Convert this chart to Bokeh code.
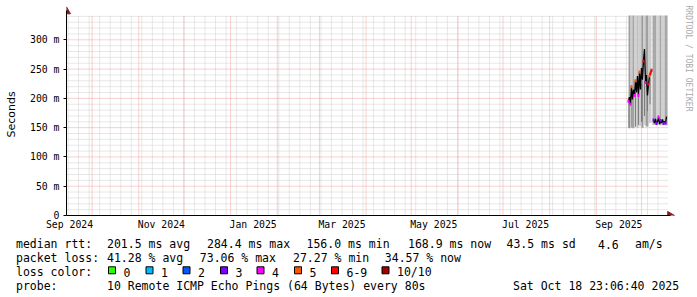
import math
import numpy as np
import pandas as pd
from bokeh.plotting import figure
from bokeh.models import Range1d, FixedTicker, DatetimeTickFormatter
from bokeh.layouts import column, row
from bokeh.core.properties import value
from bokeh.embed import file_html
from bokeh.resources import INLINE

# ---------------- data ----------------
graph_end = "2025-10-18 23:06:40"
graph_days = 400
y_upper = 341.5  # ms, upper limit of the graph area

x_label_dates = ["2024-09-16", "2024-11-16", "2025-01-16", "2025-03-16",
                 "2025-05-16", "2025-07-16", "2025-09-16"]
x_labels = ["Sep 2024", "Nov 2024", "Jan 2025", "Mar 2025", "May 2025", "Jul 2025", "Sep 2025"]
y_tick_values = [0, 50, 100, 150, 200, 250, 300]
y_tick_labels = ["0", "50 m", "100 m", "150 m", "200 m", "250 m", "300 m"]

# smoke (spread of the pings), clipped at the graph's upper limit
smoke_start = ["2025-09-22 10:00", "2025-09-23 18:00", "2025-09-25 00:00", "2025-09-26 08:00",
               "2025-09-28 08:00", "2025-09-29 00:00", "2025-10-01 00:00", "2025-10-02 08:00",
               "2025-10-03 16:00", "2025-10-05 16:00", "2025-10-08 08:00", "2025-10-11 00:00",
               "2025-10-13 00:00", "2025-10-14 08:00", "2025-10-16 08:00"]
smoke_end = ["2025-09-23 18:00", "2025-09-25 00:00", "2025-09-26 08:00", "2025-09-28 08:00",
             "2025-09-29 00:00", "2025-10-01 00:00", "2025-10-02 08:00", "2025-10-03 16:00",
             "2025-10-05 16:00", "2025-10-07 16:00", "2025-10-11 00:00", "2025-10-13 00:00",
             "2025-10-14 08:00", "2025-10-16 08:00", "2025-10-18 08:00"]
smoke_low = [149, 152, 149, 151, 150, 153, 150, 155, 152, 158, 155, 155, 154, 155, 154]
smoke_high = [341.5] * 15
smoke_gray = ["#9e9e9e", "#cbcbcb", "#a4a4a4", "#d0d0d0", "#a4a4a4", "#cdcdcd", "#9a9a9a",
              "#cfcfcf", "#a0a0a0", "#cccccc", "#a8a8a8", "#d2d2d2", "#a6a6a6", "#d0d0d0", "#a8a8a8"]

# denser smoke just below the median
core_start = ["2025-09-22 08:00", "2025-09-24 08:00", "2025-09-26 16:00", "2025-09-28 16:00",
              "2025-09-30 16:00", "2025-10-02 16:00", "2025-10-04 16:00", "2025-10-06 08:00"]
core_end = ["2025-09-23 00:00", "2025-09-25 00:00", "2025-09-27 08:00", "2025-09-29 08:00",
            "2025-10-01 16:00", "2025-10-03 08:00", "2025-10-05 08:00", "2025-10-07 00:00"]
core_low = [150, 150, 152, 155, 160, 170, 178, 190]
core_high = [195, 205, 210, 205, 225, 230, 205, 235]

# median rtt (ms), one sample every 16 h
sample_step = "16h"
median_a_start = "2025-09-22 08:00"
median_a = [195, 202, 190, 220, 198, 215, 205, 230, 210, 238, 205, 245,
            215, 252, 232, 264, 284.4, 227, 240, 205, 224, 238, 243, 248]
median_a_loss = ["4", "", "4", "5", "", "", "4", "5", "", "", "4", "5",
                 "", "", "", "6-9", "", "4", "", "", "6-9", "5", "6-9", "6-9"]
median_b_start = "2025-10-09 00:00"
median_b = [163, 158, 165, 157, 160, 168, 156, 162, 158, 164, 157, 161, 158, 168.9]
median_b_loss = ["3", "", "", "3", "", "4", "", "3", "", "", "3", "", "3", ""]

loss_labels = ["0", "1", "2", "3", "4", "5", "6-9", "10/10"]
loss_colors = ["#26ff00", "#00b8ff", "#0059ff", "#7e00ff", "#ff00ff", "#ff5500", "#ff0000", "#a10000"]

rtt_stats = ["201.5 ms avg", "284.4 ms max", "156.0 ms min", "168.9 ms now", "43.5 ms sd", "4.6", "am/s"]
loss_stats = ["41.28 % avg", "73.06 % max", "27.27 % min", "34.57 % now"]
probe_text = "10 Remote ICMP Echo Pings (64 Bytes) every 80s"
stamp_text = "Sat Oct 18 23:06:40 2025"

# ---------------- helpers ----------------
DAY = 86400000.0


def to_ms(v):
    return np.asarray((pd.to_datetime(v) - pd.Timestamp("1970-01-01")) / pd.Timedelta(milliseconds=1), dtype=float)


t_end = float(to_ms([graph_end])[0])
t0 = t_end - graph_days * DAY
FRAME_L, FRAME_B = 66, 215
STRIP_W = 26
px_day = 602 / graph_days
px_ms = 200 / y_upper
x_end = t0 + (697 - FRAME_L) / px_day * DAY
y_end = FRAME_B / px_ms


def xpx(px):
    return t0 + (px - FRAME_L) / px_day * DAY


def ypx(py):
    return (FRAME_B - py) / px_ms


MONO = "DejaVu Sans Mono"
ARROW = "#8b1a1a"
GRID = "#cfcfcf"
MGRID = "#f0a0a0"

# ---------------- graph ----------------
p = figure(width=697 - STRIP_W, height=232, title=None, x_axis_type="datetime",
           x_range=Range1d(t0, x_end), y_range=Range1d(0, y_end),
           output_backend="svg", toolbar_location=None,
           min_border_left=FRAME_L - STRIP_W, min_border_right=0, min_border_top=0, min_border_bottom=17)
p.frame_align = False
p.outline_line_color = None
p.xgrid.visible = False
p.ygrid.visible = False
p.background_fill_color = "white"
p.border_fill_color = "white"

# grid lines
weeks = to_ms(pd.date_range("2024-09-15", "2025-10-18", freq="W-SUN"))
months = to_ms(pd.date_range("2024-10-01", "2025-10-18", freq="MS"))
y_minor = [v for v in range(10, 341, 10) if v % 50]
y_major = [50, 100, 150, 200, 250, 300]
p.segment(x0=weeks, y0=0, x1=weeks, y1=y_upper, line_color=GRID, line_width=1, line_dash="1 1")
p.segment(x0=t0, y0=y_minor, x1=t_end, y1=y_minor, line_color=GRID, line_width=1, line_dash="1 1")
p.segment(x0=months, y0=0, x1=months, y1=y_upper, line_color=MGRID, line_width=1, line_dash="1 1")
p.segment(x0=t0, y0=y_major, x1=t_end, y1=y_major, line_color=MGRID, line_width=1, line_dash="1 1")

# smoke
p.quad(left=to_ms(smoke_start), right=to_ms(smoke_end), bottom=smoke_low,
       top=np.minimum(smoke_high, y_upper), fill_color=smoke_gray, line_color=None)
p.quad(left=to_ms(core_start), right=to_ms(core_end), bottom=core_low, top=core_high,
       fill_color="#7a7a7a", line_color=None)

# median line
ta = to_ms(pd.date_range(median_a_start, periods=len(median_a), freq=sample_step))
tb = to_ms(pd.date_range(median_b_start, periods=len(median_b), freq=sample_step))
mx = np.concatenate([ta, [np.nan], tb])
my = np.concatenate([median_a, [np.nan], median_b])
p.line(mx, my, line_color="black", line_width=1.3)

cmap = dict(zip(loss_labels, loss_colors))
lx, ly, lc = [], [], []
for tt, vv, ll in list(zip(ta, median_a, median_a_loss)) + list(zip(tb, median_b, median_b_loss)):
    if ll:
        lx.append(tt)
        ly.append(vv)
        lc.append(cmap[ll])
p.rect(x=lx, y=ly, width=2, height=3, width_units="screen", height_units="screen",
       fill_color=lc, line_color=None)

# axes
p.xaxis.ticker = FixedTicker(ticks=list(to_ms(x_label_dates)))
fmt = "%b %Y"
p.xaxis.formatter = DatetimeTickFormatter(microseconds=fmt, milliseconds=fmt, seconds=fmt, minsec=fmt,
                                          minutes=fmt, hourmin=fmt, hours=fmt, days=fmt,
                                          months=fmt, years=fmt)
p.xaxis.major_label_overrides = dict(zip([float(v) for v in to_ms(x_label_dates)], x_labels))
p.xaxis.bounds = (t0, xpx(670))
p.xaxis.major_tick_out = 0
p.xaxis.major_tick_in = 0
p.xaxis.minor_tick_line_color = None
p.xaxis.major_label_standoff = 3

p.yaxis.ticker = FixedTicker(ticks=y_tick_values)
p.yaxis.major_label_overrides = dict(zip(y_tick_values, y_tick_labels))
p.yaxis.bounds = (0, ypx(10))
p.yaxis.major_tick_out = 3
p.yaxis.major_tick_in = 0
p.yaxis.minor_tick_line_color = None
p.yaxis.major_label_standoff = 4

for ax in (p.xaxis[0], p.yaxis[0]):
    ax.axis_line_color = "black"
    ax.axis_line_width = 1
    ax.major_tick_line_color = "black" if ax is p.yaxis[0] else None
    ax.major_label_text_font = MONO
    ax.major_label_text_font_size = "9.8px"
    ax.major_label_text_color = "black"

# arrows
p.scatter(x=[t0], y=[ypx(11)], marker="triangle", size=8, fill_color=ARROW, line_color=ARROW)
p.scatter(x=[xpx(669.5)], y=[0], marker="triangle", angle=-math.pi / 2, size=8,
          fill_color=ARROW, line_color=ARROW)

# watermark
p.text(x=[xpx(688)], y=[ypx(5)], text=["RRDTOOL / TOBI OETIKER"], angle=-math.pi / 2,
       text_align="left", text_baseline="middle", text_font=value(MONO),
       text_font_size="8px", text_color="#aaaaaa")

# ---------------- y axis title strip ----------------
s = figure(width=STRIP_W, height=232, title=None, x_range=Range1d(0, STRIP_W), y_range=Range1d(0, 232),
           output_backend="svg", toolbar_location=None, min_border=0,
           x_axis_location=None, y_axis_location=None)
s.frame_align = False
s.grid.visible = False
s.outline_line_color = None
s.background_fill_color = "white"
s.border_fill_color = "white"
s.text(x=[11], y=[232 - 114], text=["Seconds"], angle=math.pi / 2, text_align="center",
       text_baseline="middle", text_font=value("DejaVu Sans"), text_font_size="11px", text_color="black")

# ---------------- legend ----------------
q = figure(width=697, height=65, title=None, x_range=Range1d(0, 697), y_range=Range1d(65, 0),
           output_backend="svg", toolbar_location=None, min_border=0,
           x_axis_location=None, y_axis_location=None)
q.frame_align = False
q.grid.visible = False
q.outline_line_color = None
q.background_fill_color = "white"
q.border_fill_color = "white"

row_y = [11.5, 25.5, 39.5, 53.5]
rtt_x = [106.5, 206.5, 306, 407.5, 506, 597.5, 634.5]
loss_x = [106.5, 199.3, 292.5, 384.3]
swatch_x = [108, 145.5, 182.5, 220, 256.5, 294, 331, 381.5]

tx = [15.5, 15.5, 15.5, 15.5] + rtt_x + loss_x + [v + 15 for v in swatch_x] + [106.5, 512.5]
ty = row_y + [row_y[0]] * len(rtt_x) + [row_y[1]] * len(loss_x) + [row_y[2]] * len(swatch_x) + [row_y[3]] * 2
tt = ["median rtt:", "packet loss:", "loss color:", "probe:"] + rtt_stats + loss_stats + loss_labels + [probe_text, stamp_text]
q.text(x=tx, y=ty, text=tt, text_font=value(MONO), text_font_size="11.5px",
       text_baseline="alphabetic", text_align="left", text_color="black")
q.quad(left=swatch_x, right=[v + 7 for v in swatch_x], top=34.3, bottom=41.3,
       fill_color=loss_colors, line_color="black", line_width=1)

layout = column(row(s, p, spacing=0), q, spacing=0)
open("out.html", "w").write(file_html(layout, INLINE))
